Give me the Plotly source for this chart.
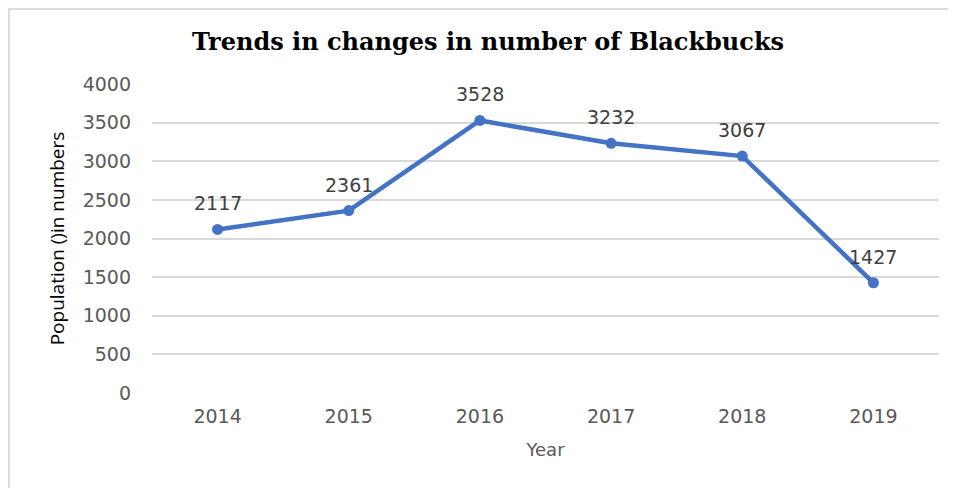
import plotly.graph_objects as go

years = ["2014", "2015", "2016", "2017", "2018", "2019"]
population = [2117, 2361, 3528, 3232, 3067, 1427]
y_ticks = [0, 500, 1000, 1500, 2000, 2500, 3000, 3500, 4000]

# page has an 8px body margin, so the figure is sized to fit inside it
W, H = 948, 480
L, T, B = 144, 76, 95
pw = 787
R = W - L - pw
ph = H - T - B

fig = go.Figure()
fig.add_trace(go.Scatter(
    x=years, y=population, mode="lines+markers",
    line=dict(color="#4472C4", width=4.5),
    marker=dict(color="#4472C4", size=11),
    cliponaxis=False, hoverinfo="skip",
))

# data labels (category index positions on the category axis)
for i, v in enumerate(population):
    fig.add_annotation(x=i, y=v, xref="x", yref="y", text=str(v), showarrow=False,
                       yanchor="middle", yshift=26,
                       font=dict(family="DejaVu Sans, sans-serif", size=19, color="#404040"))

fig.update_layout(
    width=W, height=H,
    margin=dict(l=L, r=R, t=T, b=B),
    paper_bgcolor="white", plot_bgcolor="white",
    showlegend=False,
    title=dict(text="<b>Trends in changes in number of Blackbucks</b>",
               x=480 / W, xanchor="center", y=1 - 34 / H, yanchor="middle",
               font=dict(family="DejaVu Serif, serif", size=24, color="black")),
    xaxis=dict(type="category", range=[-0.5, 5.5], showgrid=False, zeroline=False, showline=False,
               ticks="", tickfont=dict(family="DejaVu Sans, sans-serif", size=19, color="#595959"),
               ticklabelstandoff=10,
               title=dict(text="Year", font=dict(family="DejaVu Sans, sans-serif", size=18, color="#595959"),
                          standoff=17)),
    yaxis=dict(range=[0, 4000], tickvals=y_ticks, showgrid=True, gridcolor="#D9D9D9", gridwidth=1.5,
               zeroline=False, showline=False, ticks="",
               tickfont=dict(family="DejaVu Sans, sans-serif", size=19, color="#595959"),
               ticklabelstandoff=20,
               title=dict(text="Population ()in numbers",
                          font=dict(family="Open Sans, sans-serif", size=19, color="black"),
                          standoff=12)),
)

# outer frame (left and top edges visible)
fig.add_shape(type="rect", xref="paper", yref="paper",
              x0=(1 - L) / pw, x1=(W + 20 - L) / pw,
              y0=-(B + 30) / ph, y1=(H - B - 1) / ph,
              line=dict(color="#D0D0D0", width=1.5), fillcolor="rgba(0,0,0,0)", layer="below")

fig.write_html("out.html")
